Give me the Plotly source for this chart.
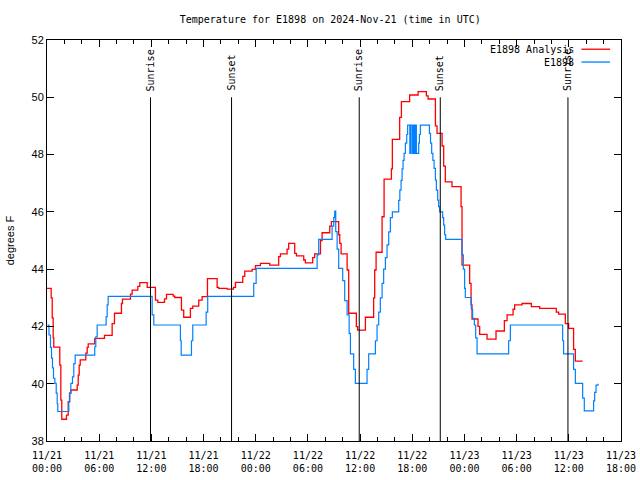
import pandas as pd
import plotly.graph_objects as go

START = "2024-11-21 00:00"

# Hours since 2024-11-21 00:00 UTC and temperatures (degrees F), step series
analysis_hours = [0.00, 0.48, 0.60, 0.71, 0.78, 1.47, 1.59, 1.70, 2.24, 2.44, 2.59, 2.74, 3.47, 3.59, 3.70, 3.82,
                  4.46, 4.62, 4.74, 5.49, 6.61, 7.49, 7.76, 8.56, 8.68, 9.60, 9.79, 10.44, 10.67, 11.52, 12.47, 12.74,
                  13.51, 13.74, 14.51, 14.69, 15.46, 15.72, 16.49, 16.76, 17.45, 17.84, 18.45, 19.56, 19.75, 20.71,
                  21.44, 21.67, 22.51, 22.74, 23.59, 23.97, 24.54, 25.61, 26.64, 26.84, 27.61, 27.79, 28.48, 28.68,
                  29.52, 29.71, 30.55, 30.78, 31.44, 31.63, 32.51, 32.70, 33.54, 33.66, 33.82, 34.51, 34.69, 35.57,
                  35.72, 36.61, 37.56, 37.68, 37.84, 38.53, 38.76, 39.60, 39.71, 40.55, 40.75, 41.70, 42.67, 43.62,
                  43.82, 44.66, 44.85, 45.43, 45.61, 45.80, 46.57, 47.61, 47.72, 48.60, 48.76, 48.87, 49.56, 49.75,
                  50.60, 51.63, 52.59, 52.90, 53.59, 53.77, 54.62, 55.69, 56.64, 58.56, 58.83, 59.60, 59.98, 60.55,
                  60.75, 61.59]
analysis_temps = [43.33, 43.0, 42.3, 41.6, 41.28, 40.65, 39.43, 38.76, 38.9, 39.37, 39.67, 39.78, 39.95, 40.3, 40.65, 40.83,
                  41.07, 41.27, 41.39, 41.58, 41.69, 42.1, 42.46, 42.8, 42.95, 43.13, 43.27, 43.4, 43.53, 43.36, 42.92, 42.84,
                  42.96, 43.12, 43.06, 43.01, 42.57, 42.32, 42.63, 42.71, 42.92, 43.04, 43.67, 43.36, 43.33, 43.3,
                  43.36, 43.54, 43.75, 43.93, 43.99, 44.12, 44.2, 44.14, 44.44, 44.53, 44.7, 44.9, 44.55, 44.46,
                  44.32, 44.22, 44.4, 44.53, 45.0, 45.27, 45.5, 45.66, 45.2, 44.9, 44.53, 43.97, 42.46, 41.99,
                  41.87, 42.32, 43.0, 43.97, 44.59, 45.83, 47.14, 47.5, 48.53, 49.3, 49.85, 50.08, 50.2, 50.05,
                  49.94, 49.0, 48.74, 48.3, 47.6, 47.05, 46.88, 46.18, 44.14, 43.5, 42.75, 42.26, 42.0, 41.72,
                  41.56, 41.84, 42.2, 42.4, 42.6, 42.75, 42.8, 42.69, 42.63, 42.5, 42.43, 42.1, 41.93, 41.2,
                  40.79, 40.79]

obs_hours = [0.06, 0.23, 0.40, 0.52, 0.63, 0.75, 0.90, 1.06, 1.17, 1.24, 2.51, 2.62, 2.74, 2.93, 3.08, 3.24,
             5.49, 5.61, 5.77, 6.80, 6.92, 7.03, 12.09, 12.28, 15.34, 15.43, 16.61, 16.76, 18.30, 18.48, 23.77, 24.05,
             31.06, 31.24, 32.78, 32.97, 33.08, 33.20, 33.36, 33.54, 34.00, 34.23, 34.51, 34.74, 34.89, 35.26, 35.46,
             36.80, 36.99, 37.76, 37.95, 38.14, 38.33, 38.53, 38.71, 38.91, 39.10, 39.29, 39.48, 39.71, 40.44, 40.57,
             40.71, 40.83, 40.94, 41.06, 41.21, 41.36, 41.47, 41.72, 41.84, 42.01, 42.13, 42.24, 42.36, 42.47, 42.74,
             42.82, 42.93, 43.97, 44.10, 44.23, 44.37, 44.51, 44.66, 44.77, 44.92, 45.03, 45.15, 45.49, 45.61, 45.72,
             45.84, 47.72, 47.87, 48.02, 48.10, 48.79, 48.94, 49.14, 49.29, 49.45, 53.08, 53.28, 59.29, 59.40, 60.55,
             60.75, 61.59, 61.78, 62.85, 62.97, 63.13, 63.36]
obs_temps = [42.05, 41.7, 41.27, 40.89, 40.55, 40.19, 40.01, 39.67, 39.3, 39.03, 39.37, 39.67, 40.01, 40.24, 40.7, 41.0,
             41.29, 41.64, 42.05, 42.34, 42.75, 43.05, 42.4, 42.05, 41.5, 41.0, 41.5, 42.05, 42.5, 43.05, 43.5, 44.03,
             44.5, 45.04, 45.5, 45.8, 46.03, 45.31, 44.7, 44.03, 43.6, 42.9, 42.4, 41.76, 41.04, 40.5, 40.01,
             40.5, 41.04, 41.5, 42.05, 42.5, 43.0, 43.5, 44.0, 44.4, 44.85, 45.3, 45.8, 46.0, 46.4, 46.76,
             47.1, 47.5, 47.8, 48.04, 48.4, 48.7, 49.03, 48.04, 49.03, 48.04, 49.03, 48.04, 49.03, 48.04, 48.4,
             48.7, 49.03, 48.74, 48.4, 48.04, 47.8, 47.52, 47.11, 46.76, 46.41, 46.18, 46.0, 45.8, 45.54, 45.2,
             45.04, 44.5, 44.0, 43.33, 43.01, 42.6, 42.28, 42.05, 41.6, 41.04, 41.5, 42.05, 41.5, 41.04, 40.5,
             40.01, 39.5, 39.05, 39.4, 39.7, 39.95, 40.0]

sun_hours = [11.9, 21.22, 35.9, 45.22, 59.9]
sun_labels = ["Sunrise", "Sunset", "Sunrise", "Sunset", "Sunrise"]

series_names = ["E1898 Analysis", "E1898"]
series_colors = ["#ff0000", "#0080ff"]

x_ticks_hours = [0, 6, 12, 18, 24, 30, 36, 42, 48, 54, 60, 66]


def to_time(hours):
    return pd.Timestamp(START) + pd.to_timedelta(pd.Series(hours), unit="h")


fig = go.Figure()
fig.add_trace(go.Scatter(x=to_time(analysis_hours), y=analysis_temps, mode="lines", line_shape="hv",
                         line=dict(color=series_colors[0], width=1.3), name=series_names[0], showlegend=False))
fig.add_trace(go.Scatter(x=to_time(obs_hours), y=obs_temps, mode="lines", line_shape="hv",
                         line=dict(color=series_colors[1], width=1.2), name=series_names[1], showlegend=False))

mono = "DejaVu Sans Mono"
sun_times = to_time(sun_hours)
for t, lab in zip(sun_times, sun_labels):
    fig.add_shape(type="line", xref="x", yref="y", x0=t, x1=t, y0=38, y1=50.0,
                  line=dict(color="black", width=1))
    fig.add_annotation(x=t, y=50.15, xref="x", yref="y", text=lab, textangle=-90, showarrow=False,
                       xanchor="center", yanchor="bottom", font=dict(family=mono, size=10, color="black"))

# gnuplot-style legend: text on the left, sample line on the right
leg_y = [0.977, 0.945]
for name, col, yy in zip(series_names, series_colors, leg_y):
    fig.add_annotation(x=0.922, y=yy, xref="paper", yref="paper", text=name, showarrow=False,
                       xanchor="right", yanchor="middle", font=dict(family=mono, size=10, color="black"))
    fig.add_shape(type="line", xref="paper", yref="paper", x0=0.931, x1=0.981, y0=yy, y1=yy,
                  line=dict(color=col, width=1.3))

tickvals = to_time(x_ticks_hours)
fig.update_layout(
    width=640, height=480,
    margin=dict(l=47, r=19, t=40, b=39, autoexpand=False),
    paper_bgcolor="white", plot_bgcolor="white",
    title=dict(text="Temperature for E1898 on 2024-Nov-21 (time in UTC)", x=0.516, xanchor="center",
               y=1 - 19 / 480, yanchor="middle", font=dict(family=mono, size=10, color="black")),
    xaxis=dict(range=[tickvals.iloc[0], tickvals.iloc[-1]], tickvals=list(tickvals),
               ticktext=[t.strftime("%m/%d<br>%H:%M") for t in tickvals],
               ticks="inside", ticklen=7, tickcolor="black", mirror="ticks", automargin=False,
               ticklabelstandoff=5,
               showline=True, linecolor="black", linewidth=1, showgrid=False, zeroline=False,
               minor=dict(dtick=2 * 3600 * 1000, ticks="inside", ticklen=4, tickcolor="black"),
               tickfont=dict(family=mono, size=10, color="black")),
    yaxis=dict(range=[38, 52], dtick=2, ticks="inside", ticklen=7, tickcolor="black", mirror="ticks",
               showline=True, linecolor="black", linewidth=1, showgrid=False, zeroline=False, automargin=False,
               tickfont=dict(family="Liberation Sans", size=11, color="black"),
               title=dict(text="degrees F", font=dict(family="Liberation Sans", size=11, color="black"),
                          standoff=14)),
)

fig.write_html("out.html", config={"displayModeBar": False},
               post_script="document.body.style.margin='0';")
